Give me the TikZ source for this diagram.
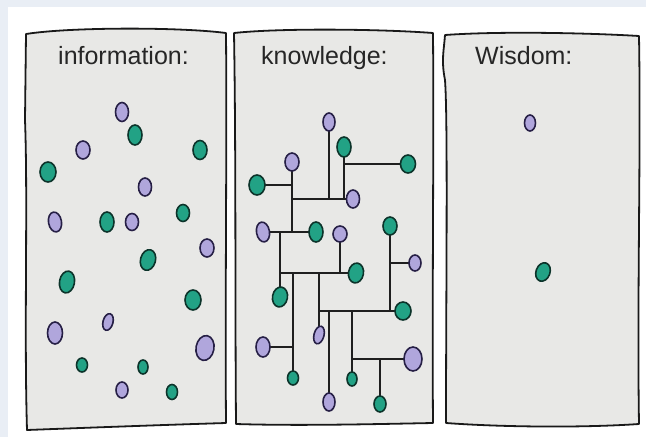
\documentclass[tikz,border=0pt]{standalone}
\usepackage{fontspec}
\setmainfont{Liberation Sans}
\usetikzlibrary{shapes.geometric,backgrounds}
\definecolor{pufill}{HTML}{B0A6DC}
\definecolor{pudark}{HTML}{261F45}
\definecolor{tefill}{HTML}{22A285}
\definecolor{tedark}{HTML}{0C332A}
\definecolor{panelfill}{HTML}{E8E8E6}
\definecolor{edgeblue}{HTML}{E9EEF5}
\tikzset{
  dot/.style={ellipse, inner sep=0pt, line width=1.6pt},
  pu/.style={dot, draw=pudark, fill=pufill},
  te/.style={dot, draw=tedark, fill=tefill},
  sz/.style 2 args={minimum width=#1pt, minimum height=#2pt},
  wire/.style={draw=black!88, line width=1.4pt},
  panel/.style={draw=black!90, fill=panelfill, line width=1.8pt, line join=round},
  title/.style={font=\fontsize{25}{28}\selectfont, text=black!85, inner sep=0pt, anchor=base west}
}
\begin{document}
\begin{tikzpicture}[x=1pt,y=-1pt]
\useasboundingbox (0,0) rectangle (646,437);

% titles
\node[title] (t1) at (58,64) {information:};
\node[title] (t2) at (261,64) {knowledge:};
\node[title] (t3) at (475,64) {Wisdom:};

% information dots
\node[pu, sz={13}{19}] (i1) at (122,112) {};
\node[te, sz={14}{20}] (i2) at (135,135) {};
\node[pu, sz={14}{18}] (i3) at (83,150) {};
\node[te, sz={14}{19}] (i4) at (200,150) {};
\node[te, sz={16}{20}] (i5) at (48,172) {};
\node[pu, sz={13}{18}] (i6) at (145,187) {};
\node[pu, sz={13}{20}, rotate=10] (i7) at (55,222) {};
\node[te, sz={14}{20}] (i8) at (107,222) {};
\node[pu, sz={13}{17}] (i9) at (132,222) {};
\node[te, sz={13}{17}] (i10) at (183,213) {};
\node[pu, sz={14}{18}] (i11) at (207,248) {};
\node[te, sz={15}{21}, rotate=-15] (i12) at (148,260) {};
\node[te, sz={15}{22}, rotate=-10] (i13) at (67,282) {};
\node[te, sz={16}{20}] (i14) at (193,300) {};
\node[pu, sz={10}{17}, rotate=-15] (i15) at (108,322) {};
\node[pu, sz={15}{22}] (i16) at (55,333) {};
\node[pu, sz={18}{25}, rotate=-10] (i17) at (205,348) {};
\node[te, sz={11}{14}] (i18) at (82,365) {};
\node[te, sz={10}{14}] (i19) at (143,367) {};
\node[pu, sz={12}{16}] (i20) at (122,390) {};
\node[te, sz={11}{15}] (i21) at (172,392) {};

% knowledge dots
\node[pu, sz={12}{18}] (k1) at (329,122) {};
\node[te, sz={14}{20}] (k2) at (344,147) {};
\node[te, sz={15}{18}] (k3) at (408,164) {};
\node[pu, sz={14}{18}] (k4) at (292,162) {};
\node[te, sz={16}{20}] (k5) at (257,185) {};
\node[pu, sz={13}{18}] (k6) at (353,199) {};
\node[pu, sz={13}{20}, rotate=10] (k7) at (263,232) {};
\node[te, sz={14}{20}] (k8) at (316,232) {};
\node[pu, sz={14}{16}] (k9) at (340,234) {};
\node[te, sz={14}{18}] (k10) at (390,226) {};
\node[pu, sz={12}{16}] (k11) at (415,263) {};
\node[te, sz={15}{20}, rotate=-10] (k12) at (356,273) {};
\node[te, sz={15}{20}, rotate=-10] (k13) at (280,297) {};
\node[te, sz={16}{18}] (k14) at (403,311) {};
\node[pu, sz={10}{18}, rotate=-15] (k15) at (319,335) {};
\node[pu, sz={14}{20}] (k16) at (263,347) {};
\node[pu, sz={18}{24}] (k17) at (413,359) {};
\node[te, sz={11}{14}] (k18) at (293,378) {};
\node[te, sz={10}{14}] (k19) at (352,379) {};
\node[pu, sz={12}{18}] (k20) at (329,402) {};
\node[te, sz={12}{16}] (k21) at (380,404) {};

% wisdom dots
\node[pu, sz={11}{16}] (w1) at (530,123) {};
\node[te, sz={14}{19}, rotate=-20] (w2) at (543,272) {};

\begin{pgfonlayer}{background}
  \fill[white] (0,0) rectangle (646,437);
  \fill[edgeblue] (0,0) rectangle (646,7);
  \fill[edgeblue] (0,0) rectangle (8,437);
  % panels
  \path[panel] (26,34) .. controls (70,27) and (180,27) .. (226,33)
     .. controls (227,150) and (225,300) .. (226,423)
     .. controls (160,425) and (80,428) .. (27,430)
     .. controls (24,330) and (28,200) .. (25,120) -- cycle;
  \path[panel] (234,33) .. controls (280,28) and (380,29) .. (433,33)
     .. controls (434,150) and (432,300) .. (433,423)
     .. controls (380,424) and (300,426) .. (236,424)
     .. controls (235,300) and (236,150) .. cycle;
  \path[panel] (445,35) .. controls (500,31) and (590,33) .. (639,36)
     .. controls (641,150) and (637,300) .. (639,424)
     .. controls (580,428) and (500,427) .. (446,423)
     .. controls (446,300) and (448,120) .. (445,80)
     .. controls (441,60) and (444,50) .. cycle;
  % knowledge connectors
  \coordinate (j2) at (280,232);
  \draw[wire] (k4.center) -- (k4.center |- k7.center);
  \draw[wire] (k7.center) -- (k8.center);
  \draw[wire] (k5.center) -- (k5.center -| k4.center);
  \draw[wire] (k6.center) -- (k6.center -| k4.center);
  \draw[wire] (k1.center) -- (k1.center |- k6.center);
  \draw[wire] (k2.center) -- (k2.center |- k6.center);
  \draw[wire] (k3.center) -- (k3.center -| k2.center);
  \draw[wire] (j2) -- (k13.center);
  \draw[wire] (k12.center) -- (k12.center -| j2);
  \draw[wire] (k9.center) -- (k9.center |- k12.center);
  \draw[wire] (k18.center) -- (k18.center |- k12.center);
  \draw[wire] (k16.center) -- (k16.center -| k18.center);
  \draw[wire] (k15.center) -- (k15.center |- k12.center);
  \draw[wire] (k14.center) -- (k14.center -| k15.center);
  \draw[wire] (k10.center) -- (k10.center |- k14.center);
  \draw[wire] (k11.center) -- (k11.center -| k10.center);
  \draw[wire] (k20.center) -- (k20.center |- k14.center);
  \draw[wire] (k19.center) -- (k19.center |- k14.center);
  \draw[wire] (k17.center) -- (k17.center -| k19.center);
  \draw[wire] (k21.center) -- (k21.center |- k17.center);
\end{pgfonlayer}
\end{tikzpicture}
\end{document}
